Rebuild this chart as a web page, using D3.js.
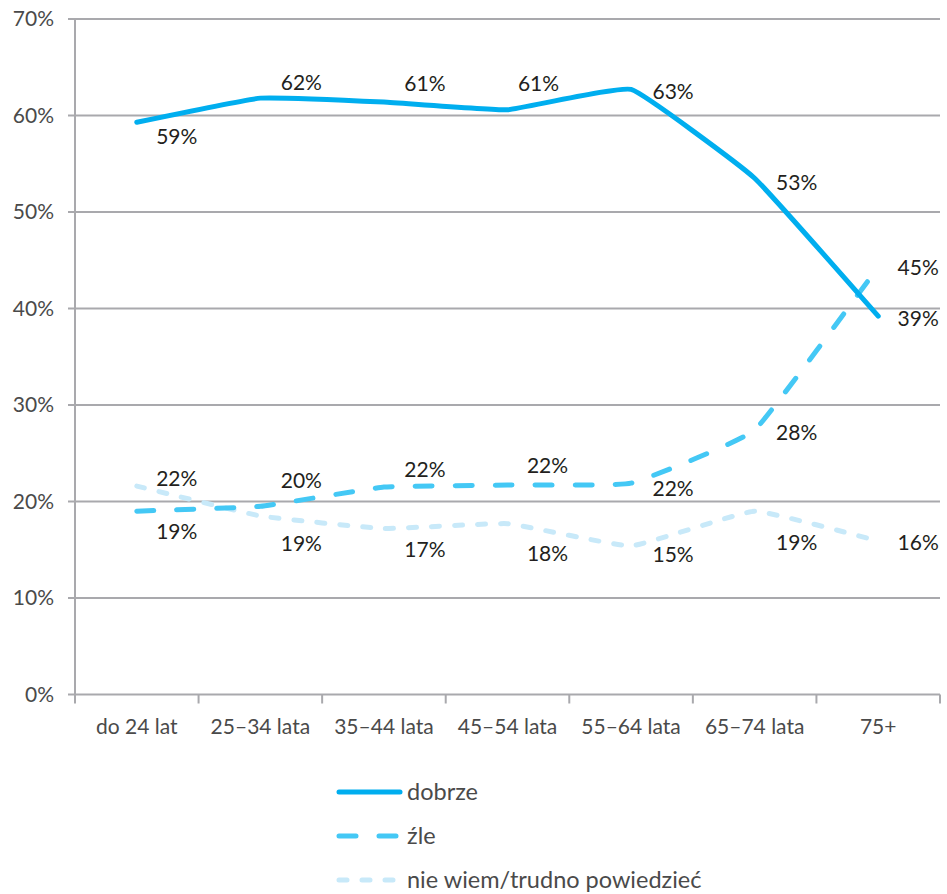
<!DOCTYPE html>
<html>
<head>
<meta charset="utf-8">
<script src="https://cdn.jsdelivr.net/npm/d3@7"></script>
<style>
  body { margin: 0; background: #fff; }
  text { font-family: Lato, "Open Sans", sans-serif; }
</style>
</head>
<body>
<svg id="chart" width="947" height="894"></svg>
<script>
/* dane wykresu */
const CATEGORIES = ["do 24 lat", "25–34 lata", "35–44 lata", "45–54 lata", "55–64 lata", "65–74 lata", "75+"];
const Y_TICKS = [0, 10, 20, 30, 40, 50, 60, 70];

const DOBRZE = [59.3, 61.8, 61.4, 60.6, 62.7, 53.5, 39.2];
const ZLE = [19.0, 19.5, 21.5, 21.7, 21.9, 27.4, 44.3];
const NIE_WIEM = [21.6, 18.5, 17.2, 17.7, 15.4, 19.0, 15.9];

const DOBRZE_LABELS = ["59%", "62%", "61%", "61%", "63%", "53%", "39%"];
const ZLE_LABELS = ["19%", "20%", "22%", "22%", "22%", "28%", "45%"];
const NIE_WIEM_LABELS = ["22%", "19%", "17%", "18%", "15%", "19%", "16%"];

const SERIES_NAMES = ["dobrze", "źle", "nie wiem/trudno powiedzieć"];

/* styl serii */
const styles = [
  { color: "#00aeef", dash: null },
  { color: "#44c8f5", dash: "17,23" },
  { color: "#c8e9f9", dash: "8,15" }
];

// przesunięcia środka etykiet względem punktów [dx, dy]
const labelOffsets = [
  [[40, 14], [41, -16], [41, -18], [31, -26], [42, 2], [42, 4], [40, 2]],
  [[40, 20], [41, -26], [41, -18], [40, -20], [42, 5], [42, 2], [40, 0]],
  [[40, -8], [41, 28], [41, 21], [40, 30], [42, 9], [42, 31], [40, 1]]
];

const svg = d3.select("#chart");
const margin = { left: 75, right: 7, top: 19, bottom: 199.5 };
const W = 947, H = 894;

const x = d3.scaleBand().domain(CATEGORIES).range([margin.left, W - margin.right]);
const y = d3.scaleLinear().domain([0, 70]).range([H - margin.bottom, margin.top]);

// siatka
svg.append("g")
  .selectAll("line")
  .data(Y_TICKS)
  .join("line")
  .attr("x1", margin.left - 7)
  .attr("x2", W - margin.right)
  .attr("y1", d => y(d))
  .attr("y2", d => y(d))
  .attr("stroke", "#a9a9ad")
  .attr("stroke-width", 2);

// oś Y
svg.append("line")
  .attr("x1", margin.left).attr("x2", margin.left)
  .attr("y1", y(70)).attr("y2", y(0))
  .attr("stroke", "#a9a9ad").attr("stroke-width", 2);

svg.append("g")
  .selectAll("text")
  .data(Y_TICKS)
  .join("text")
  .attr("x", 54)
  .attr("y", d => y(d) + 7)
  .attr("text-anchor", "end")
  .attr("font-size", 21)
  .attr("fill", "#4a4a4a")
  .text(d => d + "%");

// oś X - kreski
const xTicks = CATEGORIES.map(c => x(c)).concat([x.range()[1]]);
svg.append("g")
  .selectAll("line")
  .data(xTicks)
  .join("line")
  .attr("x1", d => d).attr("x2", d => d)
  .attr("y1", y(0)).attr("y2", y(0) + 9)
  .attr("stroke", "#a9a9ad").attr("stroke-width", 2);

svg.append("g")
  .selectAll("text")
  .data(CATEGORIES)
  .join("text")
  .attr("x", d => x(d) + x.bandwidth() / 2)
  .attr("y", 734)
  .attr("text-anchor", "middle")
  .attr("font-size", 21)
  .attr("fill", "#4a4a4a")
  .text(d => d);

// linie
const allSeries = [DOBRZE, ZLE, NIE_WIEM];
const allLabels = [DOBRZE_LABELS, ZLE_LABELS, NIE_WIEM_LABELS];

const line = d3.line()
  .x((d, i) => x(CATEGORIES[i]) + x.bandwidth() / 2)
  .y(d => y(d))
  .curve(d3.curveCardinal.tension(0.7));

[2, 1, 0].forEach(s => {
  svg.append("path")
    .datum(allSeries[s])
    .attr("d", line)
    .attr("fill", "none")
    .attr("stroke", styles[s].color)
    .attr("stroke-width", 5)
    .attr("stroke-linecap", "round")
    .attr("stroke-linejoin", "round")
    .attr("stroke-dasharray", styles[s].dash);
});

// etykiety danych
allSeries.forEach((vals, s) => {
  svg.append("g")
    .selectAll("text")
    .data(vals)
    .join("text")
    .attr("x", (d, i) => x(CATEGORIES[i]) + x.bandwidth() / 2 + labelOffsets[s][i][0])
    .attr("y", (d, i) => y(d) + labelOffsets[s][i][1] + 7.5)
    .attr("text-anchor", "middle")
    .attr("font-size", 21)
    .attr("fill", "#231f20")
    .text((d, i) => allLabels[s][i]);
});

// legenda
const legend = svg.append("g");
SERIES_NAMES.forEach((name, s) => {
  const ly = 792 + s * 44;
  legend.append("line")
    .attr("x1", 339).attr("x2", 400)
    .attr("y1", ly).attr("y2", ly)
    .attr("stroke", styles[s].color)
    .attr("stroke-width", 5)
    .attr("stroke-linecap", "round")
    .attr("stroke-dasharray", styles[s].dash);
  legend.append("text")
    .attr("x", 407)
    .attr("y", ly + 8)
    .attr("font-size", 23.5)
    .attr("fill", "#4a4a4a")
    .text(name);
});
</script>
</body>
</html>
